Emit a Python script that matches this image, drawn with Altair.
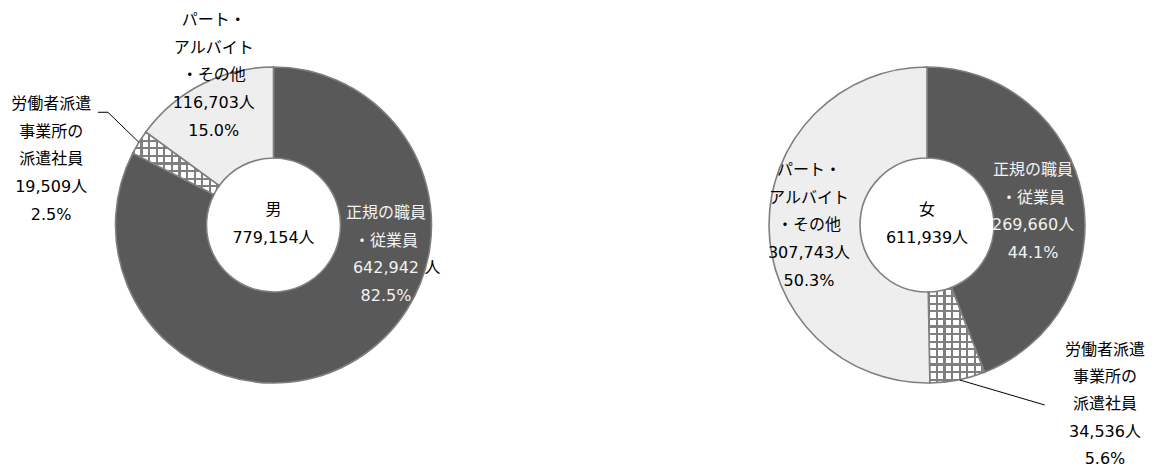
import math
import altair as alt
import pandas as pd

# ---------------- data ----------------
categories = ["正規の職員・従業員", "労働者派遣事業所の派遣社員", "パート・アルバイト・その他"]
category_labels = ["正規の職員\n・従業員", "労働者派遣\n事業所の\n派遣社員", "パート・\nアルバイト\n・その他"]
men_values = [642942, 19509, 116703]
women_values = [269660, 34536, 307743]
men_pct = ["82.5%", "2.5%", "15.0%"]
women_pct = ["44.1%", "5.6%", "50.3%"]
sex_names = ["男", "女"]
totals = [779154, 611939]

# ---------------- style ----------------
FONT = "DejaVu Sans, Noto Sans CJK JP"
FS = 16
LH = 27.7
DARK = "#595959"
LIGHT = "#EEEEEE"
WHITE = "#FFFFFF"
EDGE = "#7F7F7F"
CLEAR = "rgba(255,255,255,0)"
R_OUT = 158
R_IN = 67
CELL = 7.6
LINE_W = 2.2
W1, W2, H = 531, 440, 434
SPACING = 168


def make_df(values, pcts, detached_unit=None):
    rows = []
    for i, (c, v, p) in enumerate(zip(categories, values, pcts)):
        num = f"{v:,}" + ("" if i == detached_unit else "人")
        rows.append(dict(cat=c, value=v, ord=i, label=f"{category_labels[i]}\n{num}\n{p}", unit="人"))
    return pd.DataFrame(rows)


def slice_angles(values, idx):
    tot = sum(values)
    a0 = sum(values[:idx]) / tot * 2 * math.pi
    a1 = sum(values[: idx + 1]) / tot * 2 * math.pi
    return a0, a1


def hatch_bbox(values, idx):
    a0, a1 = slice_angles(values, idx)
    xs, ys = [], []
    for r in (R_IN, R_OUT):
        for j in range(301):
            a = a0 + (a1 - a0) * j / 300
            xs.append(r * math.sin(a))
            ys.append(-r * math.cos(a))
    return max(xs) - min(xs), max(ys) - min(ys)


def stripes(length_px, along_x):
    stops = []
    k = 0
    while k * CELL <= length_px:
        a = k * CELL / length_px
        b = min((k * CELL + LINE_W) / length_px, 1.0)
        nxt = min((k + 1) * CELL / length_px, 1.0)
        stops += [
            {"offset": round(a, 5), "color": EDGE},
            {"offset": round(b, 5), "color": EDGE},
            {"offset": round(b, 5), "color": CLEAR},
            {"offset": round(nxt, 5), "color": CLEAR},
        ]
        k += 1
    return {
        "gradient": "linear",
        "x1": 0, "y1": 0,
        "x2": 1 if along_x else 0,
        "y2": 0 if along_x else 1,
        "stops": stops,
    }


def text_layer(df, idx, field, r, dx, dy, col, lh=LH):
    # mid-angle of slice idx, computed by the library (cumulative sum), then only that slice kept
    return (
        alt.Chart(df)
        .transform_window(cum="sum(value)", sort=[alt.SortField("ord")])
        .transform_calculate(mid="datum.cum - datum.value / 2")
        .transform_filter(f"datum.ord == {idx}")
        .mark_text(radius=r, dx=dx, dy=dy, font=FONT, fontSize=FS, lineHeight=lh,
                   lineBreak="\n", align="center", baseline="middle", color=col)
        .encode(theta=alt.Theta("mid:Q"), text=alt.Text(f"{field}:N"))
    )


def donut(values, pcts, k, W, label_specs, leader_offsets, detached_unit=None, unit_spec=None):
    df = make_df(values, pcts, detached_unit)
    base = alt.Chart(df).encode(
        theta=alt.Theta("value:Q", stack=True),
        order=alt.Order("ord:Q"),
    )
    arcs = base.mark_arc(outerRadius=R_OUT, innerRadius=R_IN, stroke=EDGE, strokeWidth=1.6).encode(
        color=alt.Color("cat:N", scale=alt.Scale(domain=categories, range=[DARK, WHITE, LIGHT]), legend=None)
    )
    bw, bh = hatch_bbox(values, 1)
    test = "datum.ord == 1"
    vlines = base.mark_arc(outerRadius=R_OUT, innerRadius=R_IN, strokeWidth=0).encode(
        color=alt.condition(test, alt.value(stripes(bw, True)), alt.value(CLEAR))
    )
    hlines = base.mark_arc(outerRadius=R_OUT, innerRadius=R_IN, strokeWidth=0).encode(
        color=alt.condition(test, alt.value(stripes(bh, False)), alt.value(CLEAR))
    )
    layers = [arcs, vlines, hlines]
    for spec in label_specs:
        i, r, dx, dy, col = spec[:5]
        lh = spec[5] if len(spec) > 5 else LH
        layers.append(text_layer(df, i, "label", r, dx, dy, col, lh))
    if unit_spec is not None:
        i, r, dx, dy, col = unit_spec
        layers.append(text_layer(df, i, "unit", r, dx, dy, col))
    # centre label
    center = alt.Chart(pd.DataFrame({"t": [f"{sex_names[k]}\n{totals[k]:,}人"]})).mark_text(
        font=FONT, fontSize=FS, lineHeight=LH, lineBreak="\n", align="center",
        baseline="middle", color="#000000", dy=-15
    ).encode(text="t:N")
    layers.append(center)
    # leader line from the hatched slice's outer edge (mid-angle)
    a0, a1 = slice_angles(values, 1)
    mid = (a0 + a1) / 2
    px = W / 2 + R_OUT * math.sin(mid)
    py = H / 2 - R_OUT * math.cos(mid)
    for (ox0, oy0, ox1, oy1) in leader_offsets:
        layers.append(
            alt.Chart(pd.DataFrame({"a": [0]})).mark_rule(color="#000000", strokeWidth=1).encode(
                x=alt.value(px + ox0), y=alt.value(py + oy0),
                x2=alt.value(px + ox1), y2=alt.value(py + oy1),
            )
        )
    return alt.layer(*layers).properties(width=W, height=H)


left = donut(
    men_values, men_pct, 0, W1,
    label_specs=[(0, 112, 54, -107.5, "#F2F2F2"), (1, 180, -69, -26.7, "#000000"), (2, 112, -9, -105.2, "#000000")],
    leader_offsets=[(0, 0, -31, -30), (-31, -30, -41, -30)],
    detached_unit=0,
    unit_spec=(0, 112, 100.5, -52.5, "#000000"),
)
right = donut(
    women_values, women_pct, 1, W2,
    label_specs=[(0, 112, -4, -34.2, "#F2F2F2"), (1, 180, 143, -51.6, "#000000", 27.2), (2, 112, -6, -56, "#000000")],
    leader_offsets=[(2, 0, 87, 25)],
)

chart = (
    alt.hconcat(left, right, spacing=SPACING, bounds="flush")
    .properties(padding=0, background="white")
    .configure_view(stroke=None)
)
chart.save("out.html", embed_options={"renderer": "svg", "actions": False})
